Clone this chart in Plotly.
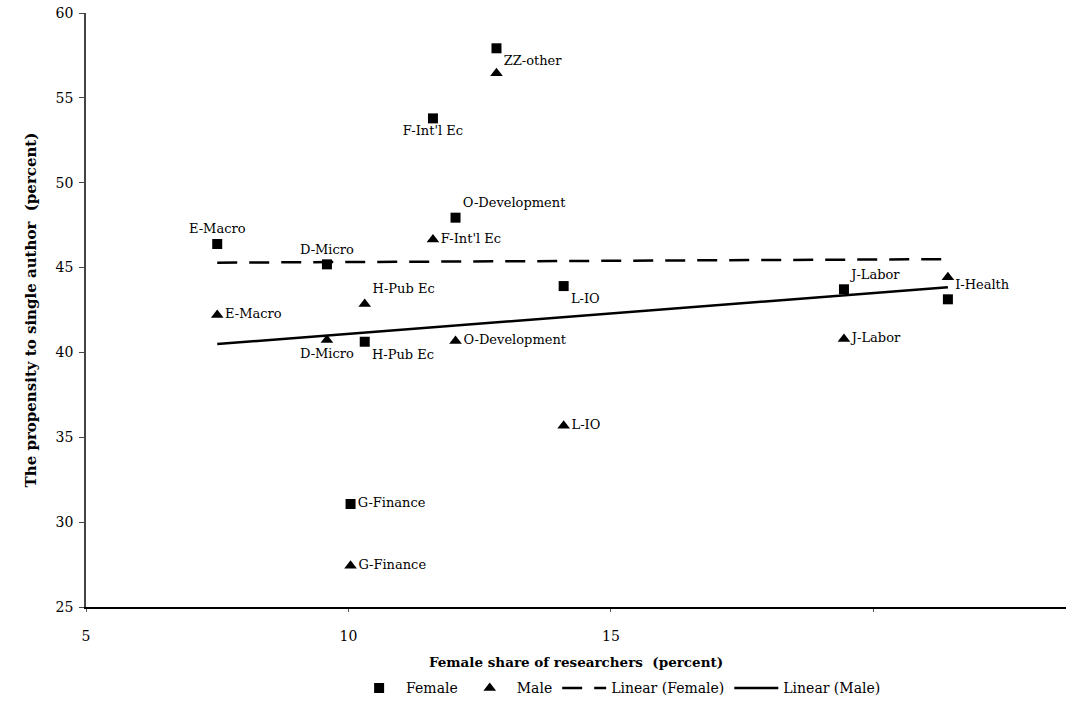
import numpy as np
import plotly.graph_objects as go

# Female share of researchers (percent), by field
fields_f = ["E-Macro", "D-Micro", "F-Int'l Ec", "ZZ-other", "O-Development",
            "L-IO", "H-Pub Ec", "G-Finance", "J-Labor", "I-Health"]
share_f = [7.50, 9.59, 11.61, 12.82, 12.04, 14.10, 10.31, 10.04, 19.44, 21.42]
single_f = [46.39, 45.19, 53.79, 57.92, 47.94, 43.91, 40.63, 31.07, 43.72, 43.13]

fields_m = ["E-Macro", "D-Micro", "F-Int'l Ec", "ZZ-other", "O-Development",
            "L-IO", "H-Pub Ec", "G-Finance", "J-Labor", "I-Health"]
share_m = [7.50, 9.59, 11.61, 12.82, 12.04, 14.10, 10.31, 10.04, 19.44, 21.42]
single_m = [42.20, 40.73, 46.66, 56.45, 40.67, 35.68, 42.85, 27.43, 40.79, 44.43]

labels_m = ["E-Macro", "D-Micro", "F-Int'l Ec", "", "O-Development",
            "L-IO", "H-Pub Ec", "G-Finance", "J-Labor", ""]

pos_f = ["top center", "top center", "bottom center", "bottom right", "top right",
         "bottom right", "bottom right", "middle right", "top right", "top right"]
pos_m = ["middle right", "bottom center", "middle right", "middle right", "middle right",
         "middle right", "top right", "middle right", "middle right", "middle right"]

x_ticks = [5, 10, 15, 20]
x_ticktext = ["5", "10", "15", ""]
y_ticks = [25, 30, 35, 40, 45, 50, 55, 60]

FONT = "DejaVu Serif"

fig = go.Figure()

fig.add_trace(go.Scatter(
    x=share_f, y=single_f, mode="markers+text", name="Female",
    text=fields_f, textposition=pos_f,
    textfont=dict(family=FONT, size=13, color="black"),
    marker=dict(symbol="square", size=10, color="black"),
))
fig.add_trace(go.Scatter(
    x=share_m, y=single_m, mode="markers+text", name="Male",
    text=labels_m, textposition=pos_m,
    textfont=dict(family=FONT, size=13, color="black"),
    marker=dict(symbol="triangle-up", size=11, color="black"),
))

xf = np.array(share_f); yf = np.array(single_f)
bf = np.polyfit(xf, yf, 1)
xl_f = np.array([xf.min(), xf.max()])
fig.add_trace(go.Scatter(
    x=xl_f, y=np.polyval(bf, xl_f), mode="lines", name="Linear (Female)",
    line=dict(color="black", width=2.5, dash="20px,12px"),
))

xm = np.array(share_m); ym = np.array(single_m)
bm = np.polyfit(xm, ym, 1)
xl_m = np.array([xm.min(), xm.max()])
fig.add_trace(go.Scatter(
    x=xl_m, y=np.polyval(bm, xl_m), mode="lines", name="Linear (Male)",
    line=dict(color="black", width=2.5),
))

fig.update_layout(
    width=1066, height=709,
    margin=dict(l=86, r=0, t=13, b=102),
    paper_bgcolor="white", plot_bgcolor="white",
    font=dict(family=FONT, size=14, color="black"),
    showlegend=True,
    legend=dict(orientation="h", x=0.544, xanchor="center", y=-0.11, yanchor="top",
                font=dict(family=FONT, size=14, color="black"),
                itemwidth=44, tracegroupgap=0),
    xaxis=dict(range=[5, 23.67], tickvals=x_ticks, ticktext=x_ticktext,
               showgrid=False, zeroline=False, showline=True, linecolor="black",
               linewidth=1.5, ticks="outside", ticklen=3, tickcolor="#555",
               ticklabelstandoff=12,
               tickfont=dict(family=FONT, size=14), automargin=False,
               title=dict(text="<b>Female share of researchers  (percent)</b>",
                          font=dict(family=FONT, size=13.5))),
    yaxis=dict(range=[25, 60], tickvals=y_ticks,
               showgrid=False, zeroline=False, showline=True, linecolor="#444",
               linewidth=1.5, ticks="outside", ticklen=5, tickcolor="#444",
               ticklabelstandoff=3,
               tickfont=dict(family=FONT, size=14), automargin=False,
               title=dict(text="<b>The propensity to single author  (percent)</b>",
                          font=dict(family=FONT, size=15))),
)

fig.write_html("out.html", config={"displayModeBar": False},
               post_script="document.body.style.margin='0';document.body.style.padding='0';")
